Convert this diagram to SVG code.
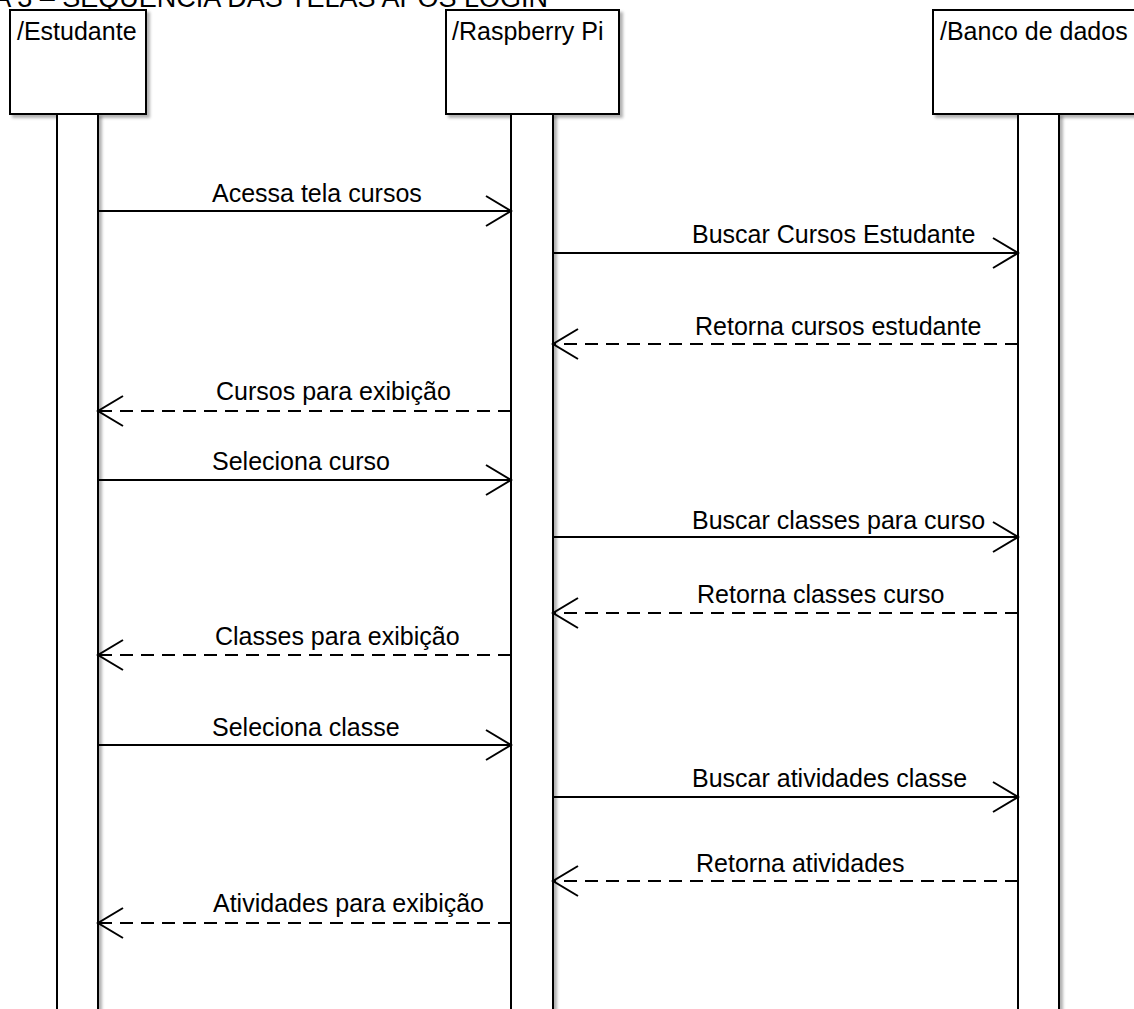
<svg xmlns="http://www.w3.org/2000/svg" width="1134" height="1009" viewBox="0 0 1134 1009">
<defs>
<filter id="sh" x="-10%" y="-10%" width="130%" height="130%">
<feDropShadow dx="3" dy="3" stdDeviation="1.5" flood-color="#000" flood-opacity="0.3"/>
</filter>
<marker id="ah" markerUnits="userSpaceOnUse" markerWidth="30" markerHeight="34" refX="27" refY="16" orient="auto" viewBox="0 0 30 34">
<polyline points="2,1 27,16 2,31" fill="none" stroke="#000" stroke-width="2"/>
</marker>
</defs>
<style>
text{font-family:"Liberation Sans",Arial,sans-serif;font-size:25px;fill:#000}
.title{font-size:27px}
.box{fill:#fff;stroke:#000;stroke-width:2}
.msg{fill:none;stroke:#000;stroke-width:2;marker-end:url(#ah)}
.ret{stroke-dasharray:13 8}
</style>
<rect width="1134" height="1009" fill="#fff"/>
<text class="title" x="548" y="7" text-anchor="end">A 3 – SEQUÊNCIA DAS TELAS APÓS LOGIN</text>
<g id="estudante">
<rect class="box" x="10" y="10" width="136" height="104" filter="url(#sh)"/>
<text x="17" y="40">/Estudante</text>
<rect class="box" x="57" y="114" width="41" height="910" filter="url(#sh)"/>
</g>
<g id="raspberry">
<rect class="box" x="446" y="10" width="173" height="104" filter="url(#sh)"/>
<text x="452" y="40">/Raspberry Pi</text>
<rect class="box" x="511" y="114" width="42" height="910" filter="url(#sh)"/>
</g>
<g id="banco">
<rect class="box" x="933" y="10" width="215" height="104" filter="url(#sh)"/>
<text x="940" y="40">/Banco de dados</text>
<rect class="box" x="1018" y="114" width="41" height="910" filter="url(#sh)"/>
</g>
<g id="connectors">
<line class="msg" x1="98" y1="211" x2="511" y2="211"/>
<line class="msg" x1="553" y1="253" x2="1018" y2="253"/>
<line class="msg ret" x1="1018" y1="344" x2="553" y2="344"/>
<line class="msg ret" x1="511" y1="411" x2="98" y2="411"/>
<line class="msg" x1="98" y1="480" x2="511" y2="480"/>
<line class="msg" x1="553" y1="537" x2="1018" y2="537"/>
<line class="msg ret" x1="1018" y1="613" x2="553" y2="613"/>
<line class="msg ret" x1="511" y1="655" x2="98" y2="655"/>
<line class="msg" x1="98" y1="745" x2="511" y2="745"/>
<line class="msg" x1="553" y1="797" x2="1018" y2="797"/>
<line class="msg ret" x1="1018" y1="881" x2="553" y2="881"/>
<line class="msg ret" x1="511" y1="923" x2="98" y2="923"/>
</g>
<g id="labels">
<text x="212" y="202">Acessa tela cursos</text>
<text x="692" y="243">Buscar Cursos Estudante</text>
<text x="695" y="335">Retorna cursos estudante</text>
<text x="216" y="400">Cursos para exibição</text>
<text x="212" y="470">Seleciona curso</text>
<text x="692" y="529">Buscar classes para curso</text>
<text x="697" y="603">Retorna classes curso</text>
<text x="215" y="645">Classes para exibição</text>
<text x="212" y="736">Seleciona classe</text>
<text x="692" y="787">Buscar atividades classe</text>
<text x="696" y="872">Retorna atividades</text>
<text x="213" y="912">Atividades para exibição</text>
</g>
</svg>
